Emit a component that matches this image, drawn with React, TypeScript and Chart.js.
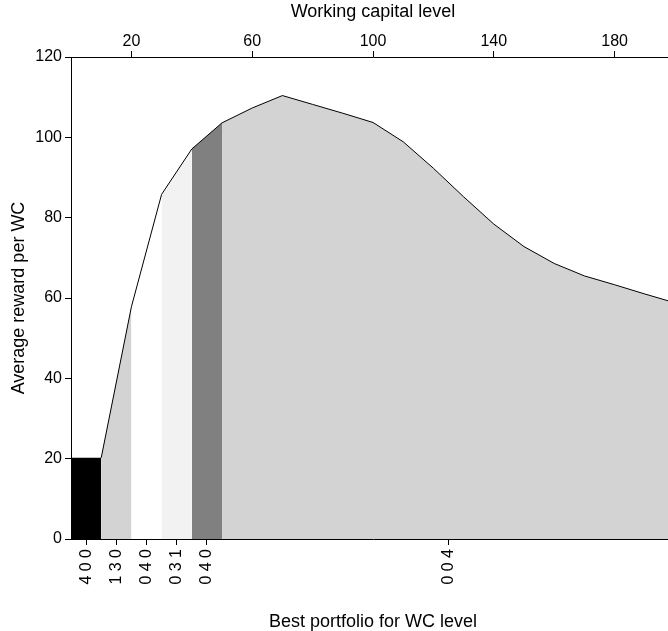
import React, { useEffect, useRef } from "react";
import { Chart, registerables } from "chart.js";

Chart.register(...registerables);

// Working capital levels (x) and average reward per WC (y)
const WC_LEVELS = [10, 20, 30, 40, 50, 60, 70, 80, 90, 100, 110, 120, 130, 140, 150, 160, 170, 180, 190, 200];
const AVG_REWARD = [20.2, 57.8, 85.8, 97.1, 103.6, 107.3, 110.4, 108.2, 106.0, 103.7, 98.9, 92.3, 85.2, 78.4, 72.8, 68.6, 65.5, 63.3, 61.0, 58.8];

// Best-portfolio bands along the WC axis
const BAND_EDGES = [0, 10, 20, 30, 40, 50, 200];
const BAND_COLORS = ["#000000", "#d3d3d3", "#ffffff", "#f2f2f2", "#808080", "#d3d3d3"];

// Tick labels
const BOTTOM_TICKS = [5, 15, 25, 35, 45, 125];
const BOTTOM_LABELS = ["4 0 0", "1 3 0", "0 4 0", "0 3 1", "0 4 0", "0 0 4"];
const TOP_TICKS = [20, 60, 100, 140, 180];
const Y_TICKS = [0, 20, 40, 60, 80, 100, 120];

const FONT = "'Liberation Sans', Arial, Helvetica, sans-serif";

function bandPoints(a: number, b: number) {
  const pts: { x: number; y: number }[] = [];
  // level before the first WC point is held at the first value
  if (a < WC_LEVELS[0]) pts.push({ x: a, y: AVG_REWARD[0] });
  WC_LEVELS.forEach((x, i) => {
    if (x >= a && x <= b) pts.push({ x, y: AVG_REWARD[i] });
  });
  return pts;
}

export default function App() {
  const ref = useRef<HTMLCanvasElement | null>(null);

  useEffect(() => {
    if (!ref.current) return;
    const bands = BAND_COLORS.map((c, i) => ({
      type: "line" as const,
      data: bandPoints(BAND_EDGES[i], BAND_EDGES[i + 1]),
      backgroundColor: c,
      borderWidth: 0,
      borderColor: "rgba(0,0,0,0)",
      pointRadius: 0,
      fill: "origin",
      tension: 0,
      order: 2,
      xAxisID: "x",
      yAxisID: "y",
    }));
    const curve = {
      type: "line" as const,
      data: WC_LEVELS.map((x, i) => ({ x, y: AVG_REWARD[i] })),
      borderColor: "#000000",
      borderWidth: 1,
      pointRadius: 0,
      fill: false,
      tension: 0,
      order: 0,
      xAxisID: "x",
      yAxisID: "y",
    };
    const axisGrid = {
      display: true,
      drawOnChartArea: false,
      drawTicks: true,
      tickLength: 6,
      color: "#000000",
      lineWidth: 1,
    };
    const axisBorder = { display: true, color: "#000000", width: 1 };
    const tickFont = { family: FONT, size: 16 };
    const titleFont = { family: FONT, size: 18, lineHeight: 1 };

    const chart = new Chart(ref.current, {
      type: "line",
      data: { datasets: [curve, ...bands] as any },
      options: {
        animation: false,
        responsive: false,
        maintainAspectRatio: false,
        layout: { padding: { left: 0, top: 0, right: 5, bottom: 0 } },
        plugins: { legend: { display: false }, tooltip: { enabled: false } },
        scales: {
          x: {
            type: "linear",
            position: "bottom",
            min: 0,
            max: 200,
            grid: axisGrid,
            border: axisBorder,
            afterBuildTicks: (axis: any) => {
              axis.ticks = BOTTOM_TICKS.map((v) => ({ value: v }));
            },
            afterFit: (axis: any) => {
              axis.height = 92;
            },
            ticks: {
              autoSkip: false,
              minRotation: 90,
              maxRotation: 90,
              padding: 4,
              color: "#000000",
              font: tickFont,
              callback: (v: any) => {
                const i = BOTTOM_TICKS.indexOf(Number(v));
                return i >= 0 ? BOTTOM_LABELS[i] : "";
              },
            },
            title: {
              display: true,
              text: "Best portfolio for WC level",
              color: "#000000",
              font: titleFont,
              padding: { top: 0, bottom: 0 },
            },
          },
          x2: {
            type: "linear",
            position: "top",
            min: 0,
            max: 200,
            grid: axisGrid,
            border: axisBorder,
            afterBuildTicks: (axis: any) => {
              axis.ticks = TOP_TICKS.map((v) => ({ value: v }));
            },
            afterFit: (axis: any) => {
              axis.height = 57;
            },
            ticks: {
              autoSkip: false,
              maxRotation: 0,
              padding: 0,
              color: "#000000",
              font: tickFont,
            },
            title: {
              display: true,
              text: "Working capital level",
              color: "#000000",
              font: titleFont,
              padding: { top: 3, bottom: 0 },
            },
          },
          y: {
            type: "linear",
            position: "left",
            min: 0,
            max: 120,
            grid: axisGrid,
            border: axisBorder,
            afterBuildTicks: (axis: any) => {
              axis.ticks = Y_TICKS.map((v) => ({ value: v }));
            },
            afterFit: (axis: any) => {
              axis.width = 71;
            },
            ticks: {
              padding: 3,
              color: "#000000",
              font: tickFont,
            },
            title: {
              display: true,
              text: "Average reward per WC",
              color: "#000000",
              font: titleFont,
              padding: { top: 10, bottom: 0 },
            },
          },
        },
      } as any,
    });
    return () => chart.destroy();
  }, []);

  return (
    <div style={{ position: "fixed", left: 0, top: 0, width: 680, height: 631, overflow: "hidden", background: "#ffffff" }}>
      <canvas ref={ref} width={680} height={631} style={{ display: "block", width: 680, height: 631 }} />
    </div>
  );
}
